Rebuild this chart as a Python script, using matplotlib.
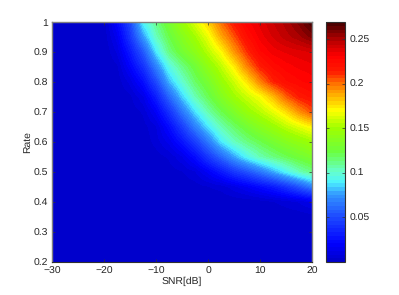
import numpy as np
from matplotlib import pyplot as plt
from matplotlib.colors import LinearSegmentedColormap

plt.rcParams['font.family'] = ['Liberation Sans', 'DejaVu Sans']
plt.rcParams['font.size'] = 7.5
plt.rcParams['text.hinting'] = 'none'

##

snr = [-30, -27.5, -25, -22.5, -20, -17.5, -15, -12.5, -10, -7.5, -5, -2.5, 0, 2.5, 5, 7.5, 10, 12.5, 15, 17.5, 20]
rate = [1.0, 0.95, 0.9, 0.85, 0.8, 0.75, 0.7, 0.65, 0.6, 0.55, 0.5, 0.45, 0.4, 0.35, 0.3, 0.25, 0.2]

# values, times 1000
vals = [
    [0, 0, 0, 0, 2, 22, 50, 92, 112, 130, 147, 163, 180, 200, 217, 230, 237, 244, 250, 258, 269],
    [0, 0, 0, 0, 1, 15, 42, 75, 103, 122, 137, 150, 166, 188, 205, 222, 233, 240, 246, 251, 258],
    [0, 0, 0, 0, 0, 9, 30, 55, 88, 113, 128, 140, 155, 170, 192, 211, 226, 233, 236, 238, 240],
    [0, 0, 0, 0, 0, 3, 20, 40, 68, 95, 112, 126, 142, 156, 173, 196, 214, 224, 229, 232, 234],
    [0, 0, 0, 0, 0, 1, 10, 25, 50, 80, 100, 117, 130, 146, 159, 175, 196, 213, 222, 226, 229],
    [0, 0, 0, 0, 0, 0, 3, 12, 32, 60, 84, 105, 120, 135, 149, 159, 169, 184, 203, 215, 220],
    [0, 0, 0, 0, 0, 0, 1, 5, 18, 40, 65, 87, 106, 121, 133, 146, 155, 165, 177, 193, 206],
    [0, 0, 0, 0, 0, 0, 0, 2, 8, 24, 45, 68, 88, 105, 117, 128, 138, 147, 156, 164, 172],
    [0, 0, 0, 0, 0, 0, 0, 1, 6, 14, 28, 45, 66, 88, 103, 113, 121, 129, 137, 143, 149],
    [0, 0, 0, 0, 0, 0, 0, 0, 2, 5, 12, 25, 43, 60, 77, 93, 105, 113, 120, 127, 133],
    [0, 0, 0, 0, 0, 0, 0, 0, 0, 2, 4, 8, 18, 30, 43, 53, 65, 78, 92, 104, 113],
    [0, 0, 0, 0, 0, 0, 0, 0, 0, 0, 1, 2, 4, 6, 11, 17, 24, 31, 41, 54, 68],
    [0, 0, 0, 0, 0, 0, 0, 0, 0, 0, 0, 0, 0, 0, 1, 1, 2, 4, 6, 9, 14],
    [0, 0, 0, 0, 0, 0, 0, 0, 0, 0, 0, 0, 0, 0, 0, 0, 0, 0, 1, 1, 2],
    [0, 0, 0, 0, 0, 0, 0, 0, 0, 0, 0, 0, 0, 0, 0, 0, 0, 0, 0, 0, 0],
    [0, 0, 0, 0, 0, 0, 0, 0, 0, 0, 0, 0, 0, 0, 0, 0, 0, 0, 0, 0, 0],
    [0, 0, 0, 0, 0, 0, 0, 0, 0, 0, 0, 0, 0, 0, 0, 0, 0, 0, 0, 0, 0],
]

xticks = [-30, -20, -10, 0, 10, 20]
yticks = [0.2, 0.3, 0.4, 0.5, 0.6, 0.7, 0.8, 0.9, 1]
yticklabels = ['0.2', '0.3', '0.4', '0.5', '0.6', '0.7', '0.8', '0.9', '1']
cticks = [0.05, 0.1, 0.15, 0.2, 0.25]
cticklabels = ['0.05', '0.1', '0.15', '0.2', '0.25']

# colorbar: not quite a plain jet
cpos = [0, 0.07, 0.1875, 0.28, 0.33, 0.375, 0.458, 0.558, 0.633, 0.675, 0.746, 0.8, 0.8625, 0.929, 1]
ccol = [(0, 0, 0.8), (0, 0, 1), (0.12, 0.3, 1), (0.2, 0.6, 1), (0.3, 0.95, 1),
        (0.4, 1, 0.8), (0.42, 1, 0.25), (0.62, 1, 0), (1, 1, 0), (1, 0.8, 0),
        (1, 0.45, 0), (1, 0.1, 0), (1, 0, 0), (0.72, 0, 0), (0.3, 0, 0)]

##

W, H = 399, 295
Z = np.array(vals)/1000

cmap = LinearSegmentedColormap.from_list('picjet', list(zip(cpos, ccol)), N=64)

fig = plt.figure(figsize=(W/100, H/100), dpi=100)
ax = fig.add_axes([52/W, 1 - 262/H, 260/W, 240/H])
cax = fig.add_axes([326/W, 1 - 262/H, 19/W, 240/H])

# half a cell of extent on each side so nodes land on their snr/rate
im = ax.imshow(Z, cmap=cmap, vmin=0, vmax=0.269, aspect='auto',
               interpolation='bilinear',
               extent=[-31.25, 21.25, 0.175, 1.025])
ax.set_xlim(-30, 20)
ax.set_ylim(0.2, 1)
ax.set_xticks(xticks)
ax.set_yticks(yticks)
ax.set_yticklabels(yticklabels)
ax.set_xlabel('SNR[dB]', color='#262626', labelpad=1)
ax.set_ylabel('Rate', color='#262626', labelpad=1)
ax.tick_params(direction='in', length=2, width=0.5, top=True, right=True,
               labelsize=7.5, labelcolor='#262626', pad=3, color='#333333')
for s in ['left', 'top', 'right']:
    ax.spines[s].set_color('#808080')
    ax.spines[s].set_linewidth(1)
ax.spines['bottom'].set_color('#303030')
ax.spines['bottom'].set_linewidth(0.8)

cb = fig.colorbar(im, cax=cax)
cb.set_ticks(cticks)
cb.set_ticklabels(cticklabels)
cax.tick_params(direction='in', length=2, width=0.5, left=True, right=True,
                labelsize=7.5, labelcolor='#262626', pad=3, color='#333333')
cb.outline.set_edgecolor('#303030')
cb.outline.set_linewidth(0.8)

fig.savefig('out.png', dpi=100)
